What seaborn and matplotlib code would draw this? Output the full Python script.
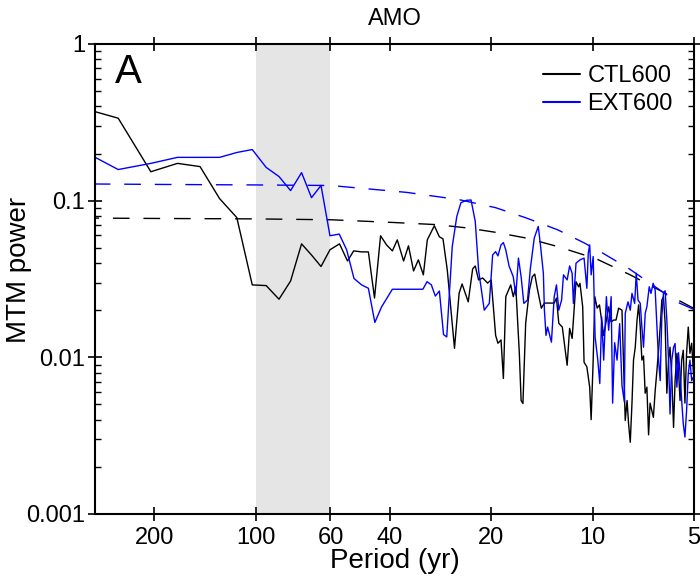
import numpy as np
import pandas as pd
import seaborn as sns
import matplotlib
matplotlib.use("Agg")
import matplotlib.pyplot as plt

# MTM spectra (period in yr, power)
ctl_period = [341, 256, 204.8, 170.7, 146.3, 128, 113.8, 102.4, 93.1, 85.3, 78.8, 73.1, 68.3, 64, 60.2,
              56.4, 53.4, 51.2, 48.5, 46.3, 44.4, 42.6, 40.9, 39.3, 38.0, 36.4, 35.2, 34.0, 32.9, 31.8,
              30.95, 29.5, 28.5, 27.8, 27.0, 25.7, 24.9, 24.4, 23.4, 22.7, 22.3, 21.8, 21.2, 20.5, 20.0,
              19.4, 19.1, 18.7, 18.4, 18.1, 17.5, 17.2, 16.9, 16.5, 16.3, 16.1, 15.8, 15.4, 15.1, 14.85,
              14.6, 14.2, 13.9, 13.0, 12.8, 12.6, 12.3, 11.9, 11.7, 11.5, 11.4, 11.2, 11.0, 10.9, 10.7,
              10.6, 10.4, 10.2, 10.1, 9.96, 9.85, 9.69, 9.54, 9.43, 9.27, 9.10, 8.96, 8.81, 8.66, 8.52,
              8.37, 8.18, 8.00, 7.90, 7.82, 7.73, 7.64, 7.56, 7.47, 7.38, 7.30, 7.22, 7.14, 7.06, 6.98,
              6.90, 6.82, 6.75, 6.67, 6.60, 6.52, 6.44, 6.37, 6.30, 6.23, 6.16, 6.09, 6.02, 5.95, 5.89,
              5.82, 5.75, 5.69, 5.62, 5.56, 5.50, 5.44, 5.38, 5.32, 5.26, 5.20, 5.14, 5.08, 5.02]
ctl_power = [0.40, 0.336, 0.153, 0.173, 0.165, 0.103, 0.078, 0.029, 0.0287, 0.0235, 0.0307, 0.053, 0.045, 0.038, 0.0486,
             0.053, 0.0412, 0.0478, 0.0471, 0.0471, 0.0239, 0.0597, 0.0522, 0.0478, 0.0562, 0.0412, 0.0515, 0.0356, 0.0419, 0.0336,
             0.0562, 0.0692, 0.0588, 0.057, 0.0361, 0.01142, 0.0257, 0.0294, 0.0226, 0.0367, 0.0383, 0.0312, 0.0321, 0.0298, 0.0312,
             0.0138, 0.0123, 0.0129, 0.00733, 0.0244, 0.029, 0.0244, 0.0282, 0.0106, 0.0053, 0.00507, 0.0165, 0.0269, 0.0327, 0.034,
             0.0277, 0.0206, 0.0222, 0.0222, 0.0239, 0.0165, 0.0156, 0.0089, 0.0153, 0.0132, 0.0173, 0.0304, 0.0282, 0.0297, 0.021,
             0.0093, 0.0087, 0.00645, 0.0040, 0.0096, 0.0244, 0.0206, 0.0216, 0.0181, 0.0138, 0.0173, 0.021, 0.0168, 0.0173, 0.0173,
             0.0206, 0.020, 0.00395, 0.0053, 0.00378, 0.00287, 0.0051, 0.0096, 0.0116, 0.0173, 0.0216, 0.0156, 0.0096, 0.0102, 0.0059,
             0.00645, 0.0032, 0.0051, 0.00457, 0.00414, 0.0061, 0.0083, 0.0111, 0.0156, 0.0232, 0.0244, 0.0165, 0.0059, 0.0096, 0.0116,
             0.0075, 0.00357, 0.0071, 0.0106, 0.0083, 0.0053, 0.0096, 0.0111, 0.0051, 0.0106, 0.0156, 0.0106, 0.0123, 0.008]

ext_period = [341, 256, 204.8, 170.7, 146.3, 128, 113.8, 102.4, 93.1, 85.3, 78.8, 73.1, 68.3, 64, 60.2,
              56.5, 53.7, 51.1, 48.5, 46.3, 44.3, 42.3, 39.3, 31.9, 31.0, 30.1, 29.3, 28.5, 27.7, 27.1,
              26.1, 25.3, 24.6, 23.7, 22.95, 22.3, 21.8, 20.97, 20.26, 19.8, 19.4, 19.1, 18.7, 18.4, 18.1,
              17.7, 17.2, 16.9, 16.6, 16.3, 16.0, 15.6, 15.3, 14.9, 14.5, 14.3, 14.0, 13.9, 13.75, 13.6,
              13.25, 13.0, 12.8, 12.6, 12.36, 12.2, 11.9, 11.7, 11.5, 11.4, 11.2, 10.9, 10.6, 10.4, 10.3,
              10.2, 10.1, 9.96, 9.83, 9.65, 9.52, 9.40, 9.27, 9.10, 8.96, 8.81, 8.72, 8.60, 8.46, 8.31,
              8.18, 8.05, 8.00, 7.85, 7.73, 7.64, 7.50, 7.42, 7.33, 7.22, 7.14, 7.06, 6.98, 6.90, 6.79,
              6.71, 6.61, 6.52, 6.44, 6.37, 6.30, 6.23, 6.16, 6.09, 6.02, 5.95, 5.89, 5.82, 5.75, 5.69,
              5.62, 5.56, 5.50, 5.44, 5.38, 5.32, 5.26, 5.20, 5.14, 5.08, 5.02]
ext_power = [0.219, 0.158, 0.173, 0.189, 0.189, 0.189, 0.203, 0.212, 0.163, 0.1426, 0.116, 0.151, 0.1045, 0.125, 0.0597,
             0.0612, 0.0485, 0.0319, 0.029, 0.0276, 0.0167, 0.021, 0.0272, 0.0272, 0.0304, 0.029, 0.0246, 0.0265, 0.01397, 0.0135,
             0.0509, 0.0793, 0.097, 0.1005, 0.101, 0.0737, 0.0361, 0.020, 0.0221, 0.0451, 0.0473, 0.0444, 0.0522, 0.054, 0.0485,
             0.0383, 0.0327, 0.0250, 0.043, 0.0327, 0.0221, 0.0232, 0.037, 0.0577, 0.0685, 0.0535, 0.0344, 0.020, 0.0138, 0.0156,
             0.0125, 0.0244, 0.029, 0.020, 0.0232, 0.0336, 0.0312, 0.0383, 0.0344, 0.0221, 0.0399, 0.0419, 0.043, 0.0276, 0.0462,
             0.0522, 0.0336, 0.044, 0.0135, 0.0096, 0.0068, 0.0181, 0.0096, 0.0244, 0.0149, 0.0244, 0.0051, 0.0124, 0.0096, 0.0164,
             0.0066, 0.0052, 0.0191, 0.0226, 0.020, 0.0256, 0.0221, 0.0344, 0.0232, 0.0221, 0.0156, 0.0116, 0.0191, 0.021, 0.0282,
             0.0256, 0.0297, 0.0269, 0.0156, 0.0096, 0.0071, 0.0181, 0.0256, 0.0266, 0.0173, 0.0096, 0.00435, 0.0096, 0.0116, 0.01225,
             0.00645, 0.0107, 0.00787, 0.0053, 0.00376, 0.0031, 0.00457, 0.00787, 0.0096, 0.0071, 0.0075]

# red-noise significance curves (dashed)
ctl_sig_period = [341, 200, 100, 59.5, 39.2, 29, 23.6, 19.4, 15.6, 12.6, 9.74, 7.73, 6.16, 5.0]
ctl_sig_power = [0.0775, 0.077, 0.0765, 0.0755, 0.0726, 0.0703, 0.067, 0.0628, 0.0575, 0.0507, 0.0425, 0.0336, 0.026, 0.0205]
ext_sig_period = [341, 200, 100, 60, 35.7, 24.9, 19.4, 15.8, 12.7, 10.6, 9.35, 7.78, 5.6, 5.0]
ext_sig_power = [0.128, 0.127, 0.126, 0.125, 0.113, 0.1015, 0.0902, 0.0778, 0.0652, 0.0538, 0.0464, 0.0367, 0.0225, 0.0202]

period_ticks = [200, 100, 60, 40, 20, 10, 5]
power_ticks = [0.001, 0.01, 0.1, 1]
power_labels = ["0.001", "0.01", "0.1", "1"]

spec = pd.concat([
    pd.DataFrame({"period": ctl_period, "power": ctl_power, "run": "CTL600"}),
    pd.DataFrame({"period": ext_period, "power": ext_power, "run": "EXT600"}),
], ignore_index=True)
sig = pd.concat([
    pd.DataFrame({"period": ctl_sig_period, "power": ctl_sig_power, "run": "CTL600"}),
    pd.DataFrame({"period": ext_sig_period, "power": ext_sig_power, "run": "EXT600"}),
], ignore_index=True)

sns.set_theme(style="ticks")
plt.rcParams["font.family"] = ["Liberation Sans", "DejaVu Sans"]
plt.rcParams["axes.linewidth"] = 1.5
for k in ["text.color", "axes.labelcolor", "xtick.color", "ytick.color", "axes.edgecolor"]:
    plt.rcParams[k] = "black"

colors = {"CTL600": "black", "EXT600": "#0000ff"}

fig = plt.figure(figsize=(7, 5.79), dpi=100)
ax = fig.add_axes([95 / 700, 1 - 514 / 579, 599 / 700, 470 / 579])

ax.axvspan(100, 60, color="#e5e5e5", lw=0, zorder=0)

sns.lineplot(data=sig, x="period", y="power", hue="run", palette=colors,
             dashes=False, lw=1.0, legend=False, ax=ax, estimator=None)
for line in ax.get_lines():
    line.set_dashes((12, 10))
sns.lineplot(data=spec, x="period", y="power", hue="run", palette=colors,
             lw=1.0, ax=ax, estimator=None)

ax.set_xscale("log")
ax.set_yscale("log")
ax.set_xlim(300, 5)
ax.set_ylim(0.001, 1)
ax.set_xticks(period_ticks)
ax.set_xticklabels([str(t) for t in period_ticks])
ax.xaxis.set_minor_locator(matplotlib.ticker.NullLocator())
ax.set_yticks(power_ticks)
ax.set_yticklabels(power_labels)

ax.tick_params(which="major", direction="inout", length=10, width=1.2, labelsize=17,
               top=True, right=True)
ax.tick_params(which="minor", direction="in", length=4, width=1.0, right=True, left=True)
ax.tick_params(axis="x", pad=4)
ax.tick_params(axis="y", pad=2)

ax.set_xlabel("Period (yr)", fontsize=20, labelpad=0)
ax.set_ylabel("MTM power", fontsize=20)
ax.yaxis.set_label_coords(-0.105, 0.52)
ax.set_title("AMO", fontsize=17, pad=14)

ax.text(0.033, 0.98, "A", transform=ax.transAxes, fontsize=29, va="top", ha="left")

leg = ax.legend(loc="upper right", frameon=False, fontsize=17, handlelength=1.6,
                handletextpad=0.3, labelspacing=0.25, borderaxespad=0.5)
for h in leg.get_lines():
    h.set_linewidth(1.5)

fig.savefig("out.png", dpi=100)
